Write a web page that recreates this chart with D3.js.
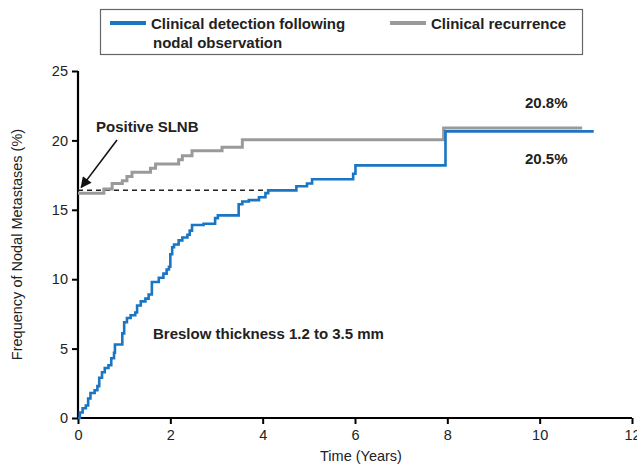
<!DOCTYPE html>
<html>
<head>
<meta charset="utf-8">
<script src="https://cdn.jsdelivr.net/npm/d3@7"></script>
<style>
  body { margin: 0; background: #fff; }
  svg { display: block; font-family: "Liberation Sans", Arial, sans-serif; }
</style>
</head>
<body>
<svg id="chart" width="637" height="464"></svg>
<script>
// step points: [years, percent] — value holds from this time on
const detectionSteps = [
  [0, 0], [0.04, 0.4], [0.1, 0.7], [0.17, 0.9], [0.22, 1.4], [0.27, 1.8],
  [0.36, 2.0], [0.42, 2.3], [0.46, 2.9], [0.52, 3.3], [0.58, 3.6], [0.66, 3.8],
  [0.72, 4.3], [0.78, 4.7], [0.8, 5.3], [0.96, 6.1], [1.0, 6.9], [1.06, 7.2],
  [1.14, 7.4], [1.24, 7.6], [1.28, 8.1], [1.36, 8.4], [1.46, 8.6], [1.53, 8.9],
  [1.6, 9.8], [1.75, 10.1], [1.85, 10.4], [1.92, 10.7], [1.97, 10.9], [2.0, 11.8],
  [2.04, 12.3], [2.08, 12.5], [2.18, 12.8], [2.26, 13.0], [2.37, 13.2], [2.42, 13.5],
  [2.47, 13.9], [2.72, 14.0], [2.97, 14.4], [3.03, 14.6], [3.48, 15.4], [3.56, 15.6],
  [3.7, 15.7], [3.92, 15.9], [4.06, 16.2], [4.12, 16.4], [4.73, 16.7], [4.96, 16.9],
  [5.07, 17.2], [5.96, 17.6], [6.01, 18.2], [7.96, 20.65], [11.17, 20.65]
];
const recurrenceSteps = [
  [0, 16.2], [0.56, 16.5], [0.74, 16.9], [0.96, 17.1], [1.06, 17.4], [1.17, 17.7],
  [1.57, 18.0], [1.68, 18.3], [2.18, 18.6], [2.26, 18.9], [2.47, 19.25], [3.12, 19.5],
  [3.56, 20.05], [7.92, 20.9], [10.92, 20.9]
];
const slnbLevel = 16.4;
const slnbEnd = 4.05;
const xTicks = [0, 2, 4, 6, 8, 10, 12];
const yTicks = [0, 5, 10, 15, 20, 25];
const legendLabels = [["Clinical detection following", "nodal observation"], ["Clinical recurrence"]];

const blue = "#1a75c2";
const grey = "#9a9a9c";

const svg = d3.select("#chart");
const x = d3.scaleLinear().domain([0, 12]).range([78, 632]);
const y = d3.scaleLinear().domain([0, 25]).range([418, 71]);

svg.append("defs").append("marker")
  .attr("id", "arrow")
  .attr("viewBox", "0 0 10 10")
  .attr("refX", 9).attr("refY", 5)
  .attr("markerWidth", 12).attr("markerHeight", 11)
  .attr("markerUnits", "userSpaceOnUse")
  .attr("orient", "auto")
  .append("path").attr("d", "M0,0 L10,5 L0,10 z").attr("fill", "#111");

// axes
const xAxis = svg.append("g")
  .attr("transform", `translate(0,${y(0)})`)
  .call(d3.axisBottom(x).tickValues(xTicks).tickSize(6).tickPadding(6));
const yAxis = svg.append("g")
  .attr("transform", `translate(${x(0)},0)`)
  .call(d3.axisLeft(y).tickValues(yTicks).tickSize(6).tickPadding(4));

[xAxis, yAxis].forEach(g => {
  g.select(".domain").attr("stroke", "#000").attr("stroke-width", 2.2);
  g.selectAll(".tick line").attr("stroke", "#000").attr("stroke-width", 2);
  g.selectAll(".tick text").attr("font-size", 14.5).attr("fill", "#222")
    .attr("font-family", "Liberation Sans, Arial, sans-serif");
});
xAxis.select(".domain").attr("d", `M${x(0)},0H${x(12)}`);
yAxis.select(".domain").attr("d", `M0,${y(0)}V${y(25)}`);

svg.append("text")
  .attr("x", 361).attr("y", 461)
  .attr("text-anchor", "middle").attr("font-size", 14.5).attr("fill", "#222")
  .text("Time (Years)");
svg.append("text")
  .attr("transform", `translate(22,${(y(0) + y(25)) / 2}) rotate(-90)`)
  .attr("text-anchor", "middle").attr("font-size", 14.5).attr("fill", "#222")
  .text("Frequency of Nodal Metastases (%)");

const step = d3.line().x(d => x(d[0])).y(d => y(d[1])).curve(d3.curveStepAfter);

// positive SLNB reference
svg.append("line")
  .attr("x1", x(0)).attr("x2", x(slnbEnd))
  .attr("y1", y(slnbLevel)).attr("y2", y(slnbLevel))
  .attr("stroke", "#222").attr("stroke-width", 1.5).attr("stroke-dasharray", "5,4");

svg.append("path").datum(recurrenceSteps)
  .attr("d", step).attr("fill", "none")
  .attr("stroke", grey).attr("stroke-width", 3);
svg.append("path").datum(detectionSteps)
  .attr("d", step).attr("fill", "none")
  .attr("stroke", blue).attr("stroke-width", 2.6);

svg.append("line")
  .attr("x1", 117).attr("y1", 140).attr("x2", x(0.07)).attr("y2", y(slnbLevel) - 3)
  .attr("stroke", "#111").attr("stroke-width", 1.6)
  .attr("marker-end", "url(#arrow)");

const labels = svg.append("g").attr("font-weight", "bold").attr("font-size", 15).attr("fill", "#222");
labels.append("text").attr("x", 96).attr("y", 132).text("Positive SLNB");
labels.append("text").attr("x", 525).attr("y", 108).text("20.8%");
labels.append("text").attr("x", 525).attr("y", 164).text("20.5%");
labels.append("text").attr("x", 153).attr("y", 339).text("Breslow thickness 1.2 to 3.5 mm");

// legend
const legend = svg.append("g");
legend.append("rect")
  .attr("x", 100.5).attr("y", 9.5).attr("width", 482).attr("height", 45)
  .attr("fill", "#fff").attr("stroke", "#666").attr("stroke-width", 1.2);
const legendItems = [
  { color: blue, x: 110, lines: legendLabels[0] },
  { color: grey, x: 390, lines: legendLabels[1] }
];
legendItems.forEach(it => {
  legend.append("line")
    .attr("x1", it.x).attr("x2", it.x + 36).attr("y1", 23).attr("y2", 23)
    .attr("stroke", it.color).attr("stroke-width", 4);
  const t = legend.append("text")
    .attr("x", it.x + 41).attr("y", 29)
    .attr("font-size", 15).attr("font-weight", "bold").attr("fill", "#222");
  it.lines.forEach((s, i) => t.append("tspan").attr("x", it.x + (i ? 43 : 41)).attr("dy", i ? 19 : 0).text(s));
});
</script>
</body>
</html>
